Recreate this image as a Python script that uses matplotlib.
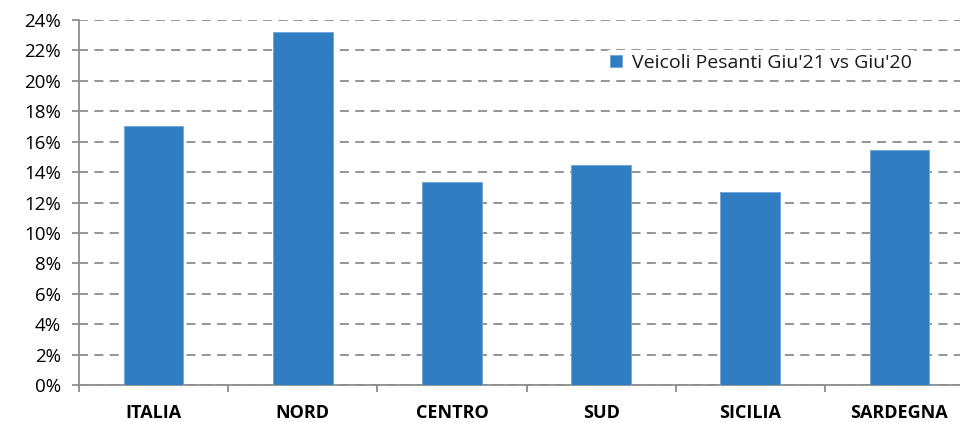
import matplotlib
matplotlib.use("Agg")
import matplotlib.pyplot as plt
from matplotlib.ticker import FuncFormatter, FixedLocator
import numpy as np

categories = ["ITALIA", "NORD", "CENTRO", "SUD", "SICILIA", "SARDEGNA"]
values = [17.05, 23.2, 13.35, 14.45, 12.7, 15.45]
series_name = "Veicoli Pesanti Giu'21 vs Giu'20"
yticks = list(range(0, 25, 2))

plt.rcParams['font.family'] = ['Open Sans', 'DejaVu Sans']

fig = plt.figure(figsize=(9.6, 4.22), dpi=100)
W, H = 960, 422
left, right, top, bottom = 79, 974, 20, 385
ax = fig.add_axes([left / W, 1 - bottom / H, (right - left) / W, (bottom - top) / H])

x = np.arange(len(categories))
bars = ax.bar(x, values, width=0.40, color="#317DC1", edgecolor="#6FA3D6", linewidth=0.6,
              label=series_name, zorder=3)

ax.set_xlim(-0.5, len(categories) - 0.5)
ax.set_ylim(0, 24)
ax.set_yticks(yticks)
ax.yaxis.set_major_formatter(FuncFormatter(lambda v, p: f"{int(v)}%"))
ax.yaxis.grid(True, linestyle=(0, (5, 3.5)), color="#8C8C8C", linewidth=1.3, zorder=0)
ax.set_axisbelow(True)

ax.set_xticks(x)
ax.set_xticklabels(categories, fontweight="bold", fontsize=13)
ax.tick_params(axis="x", which="major", length=0, pad=14)
ax.xaxis.set_minor_locator(FixedLocator(np.arange(-0.5, len(categories), 1.0)))
ax.tick_params(axis="x", which="minor", length=5, width=1.3, color="#8C8C8C", direction="out")
ax.tick_params(axis="y", length=5, width=1.3, color="#8C8C8C", labelsize=13.5, pad=8)

for s in ["top", "right"]:
    ax.spines[s].set_visible(False)
for s in ["left", "bottom"]:
    ax.spines[s].set_color("#8C8C8C")
    ax.spines[s].set_linewidth(1.3)

leg = ax.legend(loc="upper left", bbox_to_anchor=((606 - left) / (right - left), 1 - (50 - top) / (bottom - top)),
                frameon=True, fontsize=14, handlelength=0.6, handleheight=0.6, handletextpad=0.55,
                borderpad=0.2, borderaxespad=0)
leg.get_frame().set_facecolor("white")
leg.get_frame().set_edgecolor("none")
leg.get_frame().set_alpha(1.0)
for t in leg.get_texts():
    t.set_color("#1a1a1a")

fig.savefig("out.png", dpi=100)
